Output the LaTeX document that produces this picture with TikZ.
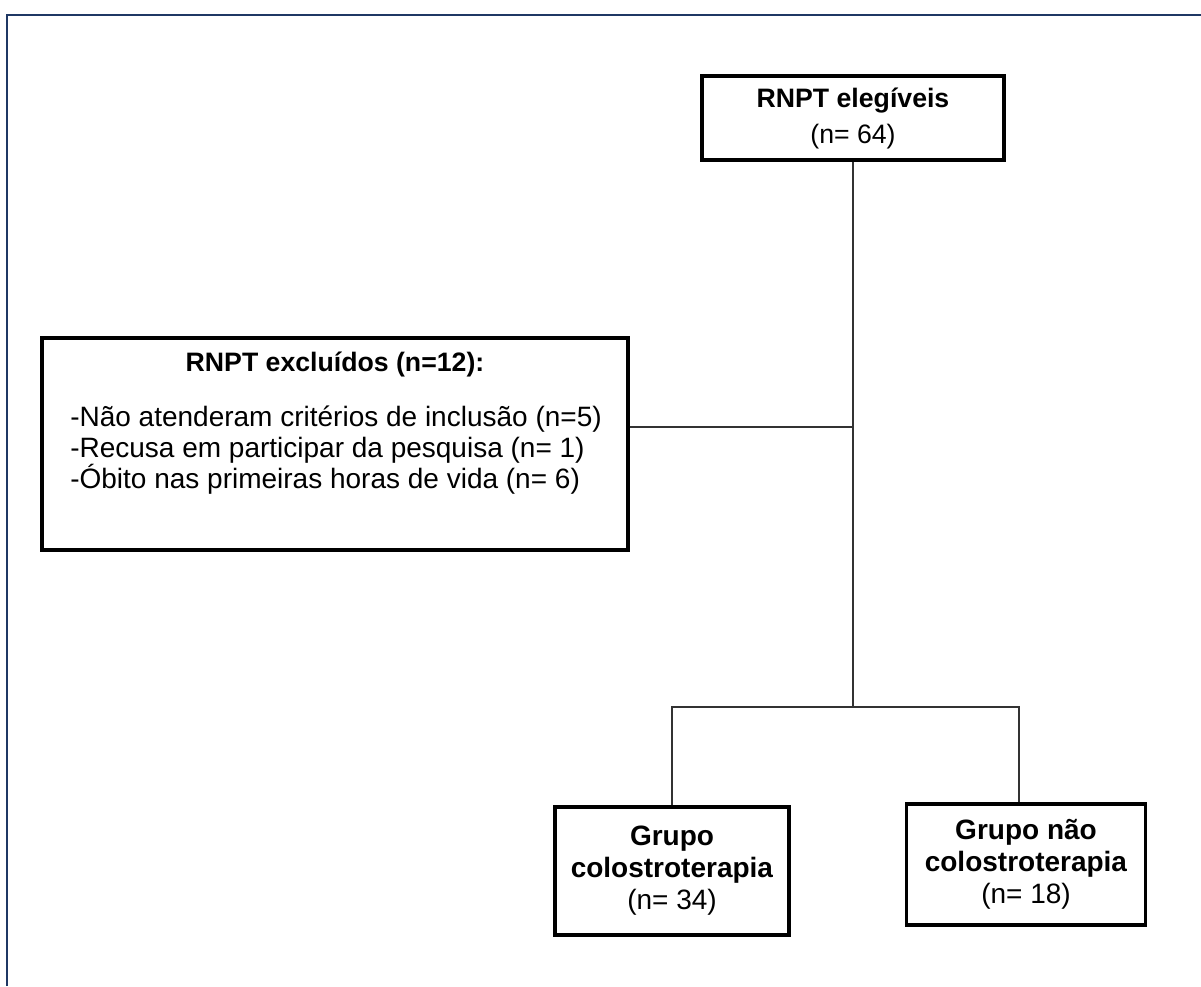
\documentclass[tikz,border=0pt]{standalone}
\usepackage{fontspec}
\setmainfont{Liberation Sans}
\usepackage{xcolor}
\usepackage{tikz}
\definecolor{moldura}{RGB}{31,56,100}

\begin{document}
\begin{tikzpicture}[x=0.75pt,y=0.75pt,yscale=-1,xscale=1,
  caixa/.style={draw, line width=2.4pt, inner sep=0pt, align=center, font=\fontsize{21}{24}\selectfont},
  liga/.style={draw=black!80, line width=1pt}]
\useasboundingbox (0,0) rectangle (1201,986);
%Shape: Frame
\draw [color=moldura, line width=1.8pt]  (7,986) -- (7,15) -- (1201,15) ;
%Shape: Rectangle [id:topo]
\node [caixa, font=\fontsize{20}{23}\selectfont, minimum width=226.5pt, minimum height=63pt] (elegiveis) at (853,118) {\textbf{RNPT elegíveis}\\[4pt](n= 64)};
%Shape: Rectangle [id:excluidos]
\node [caixa, minimum width=439.5pt, minimum height=159pt] (excluidos) at (335,444) {};
% Text Node
\node [font=\fontsize{20}{23}\selectfont\bfseries, inner sep=0pt] (tituloexcl) at (335,364) {RNPT excluídos (n=12):};
% Text Node
\node [font=\fontsize{21}{23.5}\selectfont, align=left, anchor=west, inner sep=0pt] (listaexcl) at (70,450) {-Não atenderam critérios de inclusão (n=5)\\-Recusa em participar da pesquisa (n= 1)\\-Óbito nas primeiras horas de vida (n= 6)};
%Shape: Rectangle [id:grupo1]
\node [caixa, minimum width=175.5pt, minimum height=96pt] (colostro) at (672,871) {\textbf{Grupo}\\\textbf{colostroterapia}\\(n= 34)};
%Shape: Rectangle [id:grupo2]
\node [caixa, minimum width=179.25pt, minimum height=90.75pt] (naocolostro) at (1026,864.5) {\textbf{Grupo não}\\\textbf{colostroterapia}\\(n= 18)};
% Coordinates
\coordinate (juncao) at (853,427);
\coordinate (divisao) at (853,707);
\coordinate (ramoA) at (672,707);
\coordinate (ramoB) at (1019,707);
%Straight Lines
\draw [liga] (elegiveis.south) -- (divisao) ;
\draw [liga] (excluidos.east |- juncao) -- (juncao) ;
\draw [liga] (colostro.north) -- (ramoA) -- (ramoB) -- (ramoB |- naocolostro.north) ;
\end{tikzpicture}
\end{document}
